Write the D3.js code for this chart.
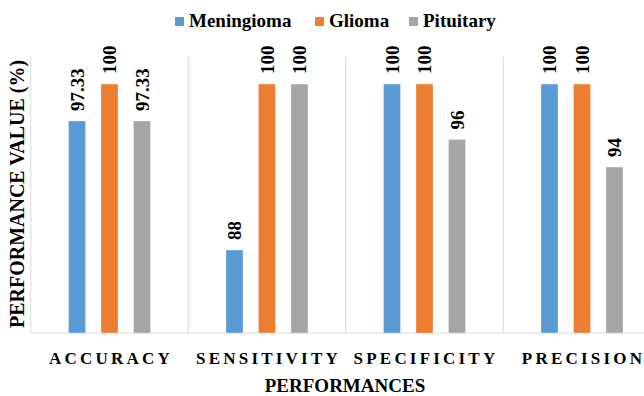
<!DOCTYPE html>
<html><head><meta charset="utf-8">
<script src="https://cdn.jsdelivr.net/npm/d3@7"></script>
<style>
html,body{margin:0;padding:0;background:#fff;}
svg{display:block;}
</style></head>
<body><svg id="c" width="644" height="396"></svg>
<script>
const categories = ["ACCURACY","SENSITIVITY","SPECIFICITY","PRECISION"];
const seriesNames = ["Meningioma","Glioma","Pituitary"];
const meningioma = [97.33, 88, 100, 100];
const glioma = [100, 100, 100, 100];
const pituitary = [97.33, 100, 96, 94];
const labels = [["97.33","88","100","100"],["100","100","100","100"],["97.33","100","96","94"]];
const colors = ["#5B9BD5","#ED7D31","#A5A5A5"];
const yDomain = [82, 102];

const FONT = "Liberation Serif";
const values = [meningioma, glioma, pituitary];
const svg = d3.select("#c");
const plot = {left:30.75, right:660.75, top:56.4, bottom:333};

const x = d3.scaleBand().domain(categories).range([plot.left, plot.right]).padding(0);
const bw = x.bandwidth();
const xs = d3.scaleBand().domain(seriesNames)
  .range([bw/2 - 48.75, bw/2 + 48.75]).paddingInner(0.477).paddingOuter(0.2385);
const y = d3.scaleLinear().domain(yDomain).range([plot.bottom, plot.top]);

const g = svg.append("g");
const seps = categories.map(c => x(c)).concat([plot.right]);
g.selectAll("line.sep").data(seps).enter().append("line")
  .attr("x1", d=>d).attr("x2", d=>d).attr("y1", plot.top).attr("y2", plot.bottom)
  .attr("stroke","#d9d9d9").attr("stroke-width",1);
g.append("line").attr("x1",plot.left).attr("x2",plot.right).attr("y1",plot.bottom).attr("y2",plot.bottom)
  .attr("stroke","#d9d9d9").attr("stroke-width",1.2);

seriesNames.forEach((s, si) => {
  const gs = svg.append("g");
  gs.selectAll("rect").data(categories).enter().append("rect")
    .attr("x", c => x(c) + xs(s))
    .attr("width", xs.bandwidth())
    .attr("y", (c,i) => y(values[si][i]))
    .attr("height", (c,i) => y(yDomain[0]) - y(values[si][i]))
    .attr("fill", colors[si])
    .attr("stroke", "rgba(255,255,255,0.5)").attr("stroke-width", 0.6);
  gs.selectAll("text").data(categories).enter().append("text")
    .attr("transform", (c,i) => `translate(${x(c)+xs(s)+xs.bandwidth()/2},${y(values[si][i]) - 10}) rotate(-90)`)
    .attr("dy","0.35em")
    .attr("font-family",FONT)
    .attr("font-size",19).attr("font-weight","bold").attr("fill","#000")
    .text((c,i) => labels[si][i]);
});

svg.append("g").selectAll("text").data(categories).enter().append("text")
  .attr("x", c => x(c) + bw/2 + 1.5).attr("y", 363.5)
  .attr("text-anchor","middle").attr("font-family",FONT).attr("font-size",17).attr("font-weight","bold")
  .attr("letter-spacing","3.2px").attr("fill","#000")
  .text(c => c);

svg.append("text").attr("x", 345).attr("y", 391.5).attr("text-anchor","middle")
  .attr("font-family",FONT).attr("font-size",19).attr("font-weight","bold").attr("fill","#000").text("PERFORMANCES");
svg.append("text").attr("transform","translate(24,194) rotate(-90)").attr("text-anchor","middle")
  .attr("font-family",FONT).attr("font-size",20).attr("font-weight","bold").attr("fill","#000").text("PERFORMANCE VALUE (%)");

const legX = [175, 315, 409];
const leg = svg.append("g");
seriesNames.forEach((s,i) => {
  leg.append("rect").attr("x", legX[i]).attr("y", 17).attr("width", 9).attr("height", 9).attr("fill", colors[i]);
  leg.append("text").attr("x", legX[i] + 14).attr("y", 27.3).attr("font-family",FONT).attr("font-size",19).attr("font-weight","bold")
    .attr("fill","#000").text(s);
});
</script></body></html>
